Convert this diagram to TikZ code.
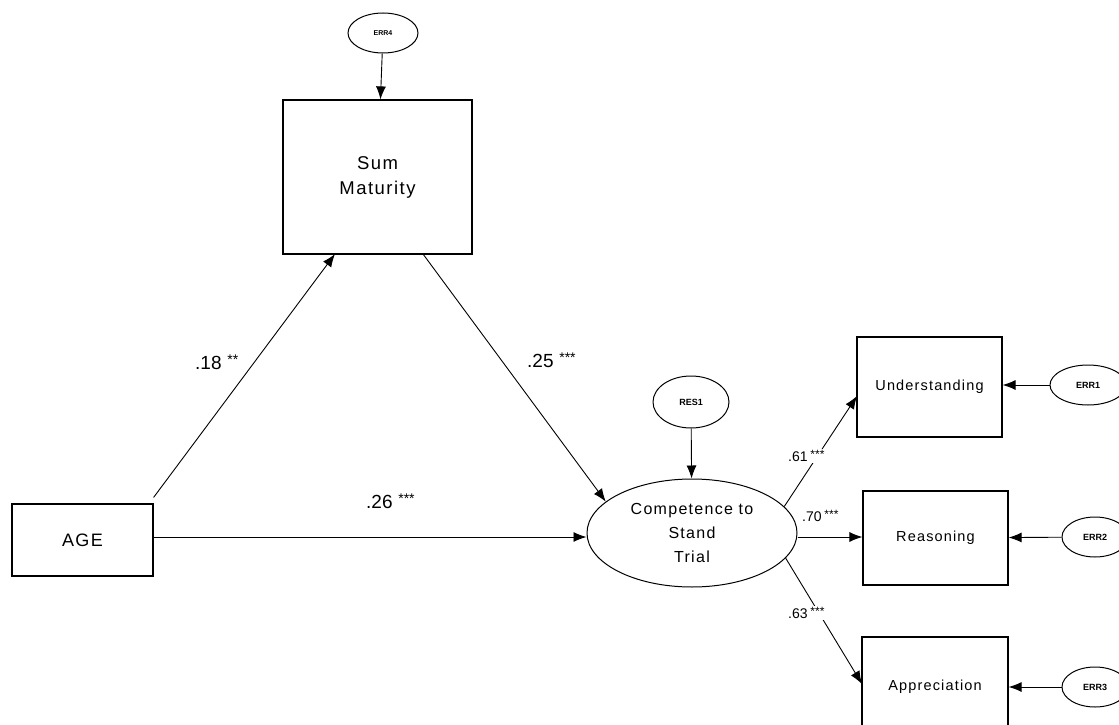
\documentclass[tikz,border=0pt]{standalone}
\usepackage{fontspec}
\setmainfont{Liberation Sans}
\newfontfamily\widefont[LetterSpace=8]{Liberation Sans}
\usetikzlibrary{shapes.geometric,arrows.meta}
\begin{document}
\begin{tikzpicture}[x=1pt,y=-1pt,
  box/.style={draw,line width=1.2pt,rectangle,inner sep=0pt,align=center},
  oval/.style={draw,line width=1pt,ellipse,inner sep=0pt,align=center},
  path/.style={line width=0.9pt,-{Latex[length=13pt,width=10pt]}},
  coef/.style={font=\fontsize{19}{20}\selectfont,anchor=west,inner sep=0pt},
  smallcoef/.style={font=\fontsize{14}{15}\selectfont,anchor=west,inner sep=1pt},
  errlabel/.style={font=\fontsize{9}{10}\selectfont\bfseries}]
\useasboundingbox (0,0) rectangle (1119,725);

% variables
\node[oval,minimum width=70pt,minimum height=40pt,font=\fontsize{7}{8}\selectfont\bfseries] (err4) at (383,33) {ERR4};
\node[box,minimum width=189pt,minimum height=154pt,font=\widefont\fontsize{18.5}{25}\selectfont] (summ) at (377.5,177) {Sum\\Maturity};
\node[box,minimum width=141pt,minimum height=72pt,font=\widefont\fontsize{18}{20}\selectfont] (age) at (82.5,540) {AGE};
\node[oval,minimum width=210pt,minimum height=108pt,font=\widefont\fontsize{16}{24}\selectfont] (cst) at (692,533) {Competence to\\Stand\\Trial};
\node[oval,minimum width=76pt,minimum height=52pt,errlabel] (res1) at (691,402) {RES1};
\node[box,minimum width=145pt,minimum height=100pt,font=\widefont\fontsize{14.5}{16}\selectfont] (und) at (929.5,387) {Understanding};
\node[box,minimum width=145pt,minimum height=94pt,font=\widefont\fontsize{14.5}{16}\selectfont] (rea) at (935.5,538) {Reasoning};
\node[box,minimum width=146pt,minimum height=100pt,font=\widefont\fontsize{14.5}{16}\selectfont] (app) at (935,687) {Appreciation};
\node[oval,minimum width=76pt,minimum height=40pt,errlabel] (err1) at (1088,385) {ERR1};
\node[oval,minimum width=66pt,minimum height=40pt,errlabel] (err2) at (1095,537) {ERR2};
\node[oval,minimum width=66pt,minimum height=40pt,errlabel] (err3) at (1095,687) {ERR3};

% structural paths
\draw[path] (err4) -- (summ);
\draw[path] (res1) -- (cst);
\coordinate (a1) at ([yshift=6pt]age.north east);
\coordinate (s0) at (335,254);
\draw[path] (a1) -- (s0);
\coordinate (s1) at (423,254);
\draw[path] (s1) -- (cst.160);
\draw[path] (age.east |- 0,537) -- (cst.west |- 0,537);

% measurement paths
\coordinate (u1) at (857,396);
\draw[path] (cst.16) -- (u1);
\draw[path] (cst.east |- 0,537) -- (rea.west |- 0,537);
\coordinate (p1) at (862,684);
\draw[path] (cst.-15) -- (p1);

% error terms
\draw[path] (err1) -- (und.east |- err1);
\draw[path] (err2) -- (rea);
\draw[path] (err3) -- (app);

% coefficients
\node[coef] at (195,362) {.18\hspace{0.3em}\raisebox{5pt}{\fontsize{14}{14}\selectfont **}};
\node[coef] at (527,360) {.25\hspace{0.3em}\raisebox{5pt}{\fontsize{14}{14}\selectfont ***}};
\node[coef] at (366,501) {.26\hspace{0.3em}\raisebox{5pt}{\fontsize{14}{14}\selectfont ***}};
\node[smallcoef,fill=white] at (787,456) {.61\hspace{0.2em}\raisebox{3pt}{\fontsize{12}{12}\selectfont ***}};
\node[smallcoef] at (801,516) {.70\hspace{0.2em}\raisebox{3pt}{\fontsize{12}{12}\selectfont ***}};
\node[smallcoef,fill=white] at (787,613) {.63\hspace{0.2em}\raisebox{3pt}{\fontsize{12}{12}\selectfont ***}};
\end{tikzpicture}
\end{document}
